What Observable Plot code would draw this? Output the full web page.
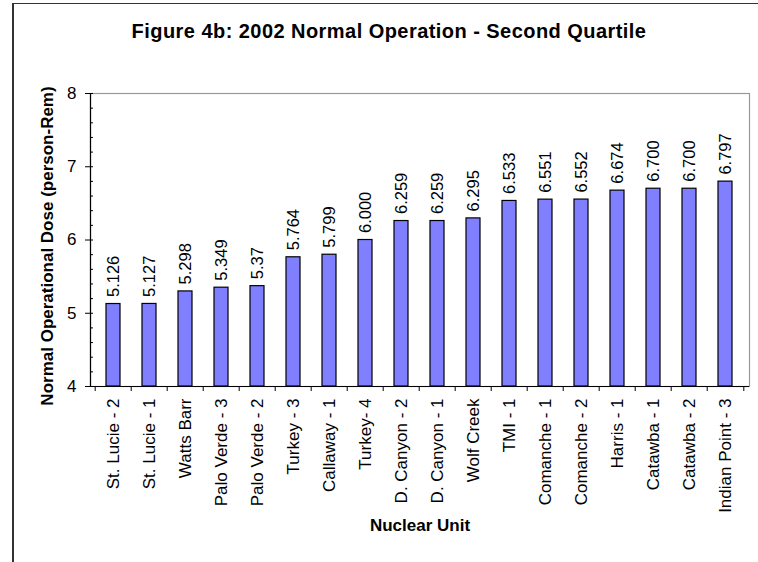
<!DOCTYPE html>
<html>
<head>
<meta charset="utf-8">
<script src="https://cdn.jsdelivr.net/npm/d3@7"></script>
<script src="https://cdn.jsdelivr.net/npm/@observablehq/plot@0.6"></script>
<style>
  html, body { margin: 0; padding: 0; background: #fff; }
  #wrap { position: relative; width: 758px; height: 562px; overflow: hidden; font-family: "Liberation Sans", Arial, sans-serif; }
  #frame { position: absolute; left: 12px; top: 3px; width: 900px; height: 800px; border-left: 2px solid #333; border-top: 1.5px solid #333; }
  #title { position: absolute; left: 0; width: 778px; top: 21px; line-height: 20px; text-align: center; font-size: 20px; font-weight: bold; letter-spacing: 0.45px; color: #000; }
  #chart { position: absolute; left: 0; top: 0; }
</style>
</head>
<body>
<div id="wrap">
  <div id="frame"></div>
  <div id="title">Figure 4b: 2002 Normal Operation - Second Quartile</div>
  <div id="chart"></div>
</div>
<script>
const units = ["St. Lucie - 2", "St. Lucie - 1", "Watts Barr", "Palo Verde - 3", "Palo Verde - 2", "Turkey - 3", "Callaway - 1", "Turkey- 4", "D. Canyon - 2", "D. Canyon - 1", "Wolf Creek", "TMI - 1", "Comanche - 1", "Comanche - 2", "Harris - 1", "Catawba - 1", "Catawba - 2", "Indian Point - 3"];
const doses = [5.126, 5.127, 5.298, 5.349, 5.37, 5.764, 5.799, 6.000, 6.259, 6.259, 6.295, 6.533, 6.551, 6.552, 6.674, 6.700, 6.700, 6.797];
const doseLabels = ["5.126", "5.127", "5.298", "5.349", "5.37", "5.764", "5.799", "6.000", "6.259", "6.259", "6.295", "6.533", "6.551", "6.552", "6.674", "6.700", "6.700", "6.797"];
const yMajorTicks = [4, 5, 6, 7, 8];
const yDomain = [4, 8];
const yTitle = "Normal Operational Dose (person-Rem)";
const xTitle = "Nuclear Unit";

const data = units.map((u, i) => ({unit: u, dose: doses[i], label: doseLabels[i]}));

const W = 758, H = 562, mL = 90, mR = 9, mT = 93, mB = 176;
const step = (W - mL - mR) / units.length;
const yMinorTicks = d3.ticks(yDomain[0], yDomain[1], 20);

const chart = Plot.plot({
  width: W,
  height: H,
  marginLeft: mL,
  marginRight: mR,
  marginTop: mT,
  marginBottom: mB,
  style: {fontFamily: '"Liberation Sans", Arial, sans-serif', color: "#000", background: "transparent", overflow: "visible"},
  x: {domain: units, paddingInner: 0.6, paddingOuter: 0.3, label: null},
  y: {domain: yDomain, label: null},
  marks: [
    Plot.frame({stroke: "#999", strokeWidth: 1.2}),
    Plot.barY(data, {x: "unit", y1: yDomain[0], y2: "dose", fill: "#8080ff", stroke: "#000", strokeWidth: 1.2}),
    Plot.text(data, {x: "unit", y: "dose", text: "label", rotate: -90, textAnchor: "start", dy: -7, fontSize: 16.5, fill: "#000"}),
    Plot.ruleY([yDomain[0]], {stroke: "#000", strokeWidth: 1.2}),
    Plot.frame({anchor: "left", stroke: "#000", strokeWidth: 1.2}),
    Plot.axisY({ticks: yMajorTicks, tickFormat: d => String(d), tickSize: 5, tickPadding: 9, fontSize: 17, label: null, stroke: "#000"}),
    Plot.axisY({ticks: yMinorTicks, tickSize: 3, dx: 3, text: null, label: null, stroke: "#000"}),
    Plot.axisX({tickSize: 5, dx: -step / 2, text: null, label: null, stroke: "#000"}),
    Plot.axisX({ticks: [units[units.length - 1]], tickSize: 5, dx: step / 2, text: null, label: null, stroke: "#000"}),
    Plot.axisX({tickSize: 0, tickRotate: -90, tickPadding: 12, fontSize: 17, label: null}),
    Plot.text([yTitle], {frameAnchor: "left", dx: -43, dy: 6, rotate: -90, textAnchor: "middle", fontSize: 17, fontWeight: "bold", fill: "#000"}),
    Plot.text([xTitle], {frameAnchor: "bottom", dy: 144, textAnchor: "middle", fontSize: 17, fontWeight: "bold", fill: "#000"})
  ]
});
document.getElementById("chart").appendChild(chart);
</script>
</body>
</html>
